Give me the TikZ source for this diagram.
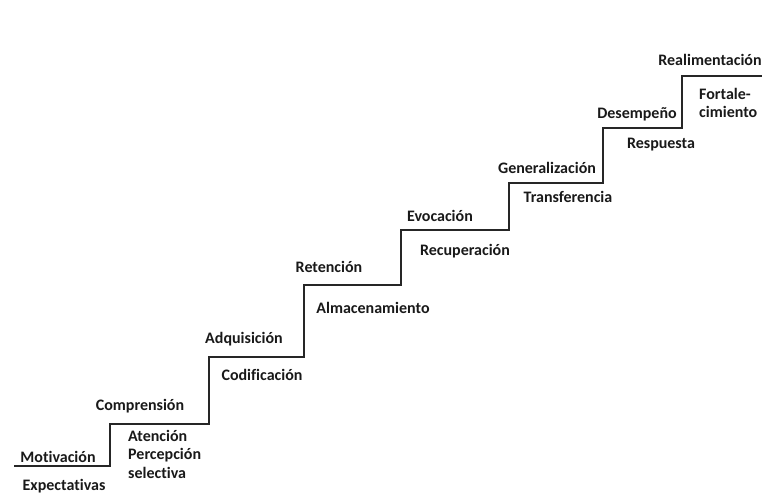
\documentclass[tikz,border=0pt]{standalone}
\usepackage{fontspec}
\setmainfont[Ligatures=NoCommon]{Carlito}
\usetikzlibrary{calc}
\tikzset{
	paso/.style={font=\fontsize{16}{18.5}\selectfont\bfseries, inner sep=0pt, color=black!90},
	escalon/.style={line width=1.8pt, color=black!85},
}

\begin{document}
\begin{tikzpicture}[x=1pt, y=-1pt]
			%%%%% START %%%%%
			\useasboundingbox (0, 0) rectangle (766, 495);
			
			\draw[escalon] (14, 466) -- (110, 466) -- (110, 424) -- (209, 424) -- (209, 357)
			-- (304, 357) -- (304, 285) -- (401, 285) -- (401, 230) -- (509, 230)
			-- (509, 183) -- (603, 183) -- (603, 128) -- (682, 128) -- (682, 76) -- (762, 76);
			
			\node[paso] (motivacion) at (58, 457) {Motivación};
			\node[paso] (expectativas) at (64, 486) {Expectativas};
			
			\node[paso] (comprension) at (140, 406) {Comprensión};
			\node[paso, align=left, anchor=north west] (atencion) at (128, 430) {Atención\\Percepción\\selectiva};
			
			\node[paso] (adquisicion) at (244, 339) {Adquisición};
			\node[paso] (codificacion) at (262, 375) {Codificación};
			
			\node[paso] (retencion) at (329, 267) {Retención};
			\node[paso] (almacenamiento) at (373, 308) {Almacenamiento};
			
			\node[paso] (evocacion) at (440, 216) {Evocación};
			\node[paso] (recuperacion) at (465, 251) {Recuperación};
			
			\node[paso] (generalizacion) at (547, 168) {Generalización};
			\node[paso] (transferencia) at (568, 197) {Transferencia};
			
			\node[paso] (desempeno) at (637, 114) {Desempeño};
			\node[paso] (respuesta) at (661, 145) {Respuesta};
			
			\node[paso] (realimentacion) at (710, 60) {Realimentación};
			\node[paso, align=left, anchor=west] (fortalecimiento) at (699, 103) {Fortale-\\cimiento};
			%%%%% END %%%%%
\end{tikzpicture}
\end{document}
